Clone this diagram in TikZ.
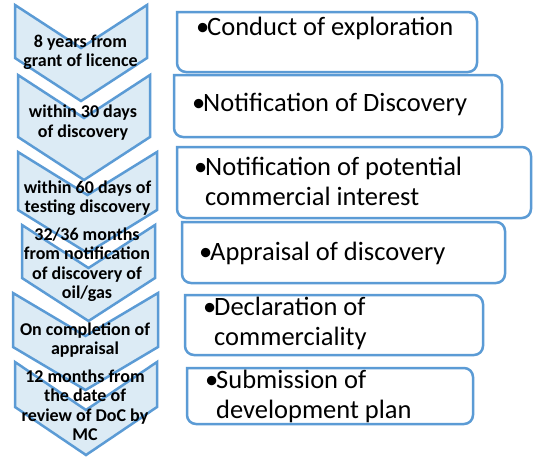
\documentclass[tikz,border=0pt]{standalone}
\usepackage{fontspec}
\setmainfont{Carlito}
\definecolor{chevline}{HTML}{5B9BD5}
\definecolor{chevfill}{HTML}{DCEBF5}
\newcommand\stagebullet{\makebox[11pt][l]{•}}
\newcommand\stageindent{\hspace*{11pt}}
% chevron: left x, right x, top y, side end y, depth
\newcommand\chevronpath[5]{%
  \draw[chevron] (#1,#3) -- ({(#1+#2)/2},{#3+#5}) -- (#2,#3) -- (#2,#4)
    -- ({(#1+#2)/2},{#4+#5}) -- (#1,#4) -- cycle;}
% stage box with rounded right-hand corners: left, top, right, bottom
\newcommand\stageframe[4]{%
  \draw[stagebox] (#1,#2) [rounded corners=9pt] -- (#3,#2) -- (#3,#4) -- (#1,#4)
    [sharp corners] -- cycle;}
\tikzset{
  chevron/.style={draw=chevline, fill=chevfill, line width=2.5pt},
  stagebox/.style={draw=chevline, fill=white, line width=2.5pt},
  chevtext/.style={align=center, inner sep=0pt, text=black,
    font=\fontsize{18}{19.5}\selectfont\bfseries},
  boxtext/.style={align=left, anchor=west, inner sep=0pt, text=black,
    font=\fontsize{26.5}{30}\selectfont}
}
\begin{document}
\begin{tikzpicture}[x=1pt,y=-1pt]
\useasboundingbox[fill=white] (0,0) rectangle (534,459);

% timeline chevrons
\chevronpath{15}{147}{5}{58}{43}
\chevronpath{18}{150}{75}{137}{43}
\chevronpath{18}{157}{152}{210}{43}
\chevronpath{22}{155}{225}{278}{43}
\chevronpath{13}{158}{293}{347}{43}
\chevronpath{15}{157}{362}{407}{48}

\node[chevtext] (c1) at (80.5,52.5) {8 years from\\grant of licence};
\node[chevtext] (c2) at (83,122.5) {within 30 days\\of discovery};
\node[chevtext] (c3) at (87.5,198) {within 60 days of\\testing discovery};
\node[chevtext] (c4) at (87,264.5) {32/36 months\\from notification\\of discovery of\\oil/gas};
\node[chevtext] (c5) at (85,340) {On completion of\\appraisal};
\node[chevtext] (c6) at (85,405) {12 months from\\the date of\\review of DoC by\\MC};

% activity boxes
\stageframe{177}{12}{477}{72}
\stageframe{174}{75}{502}{137}
\stageframe{177}{147}{531}{218}
\stageframe{182}{222}{505}{283}
\stageframe{185}{295}{483}{355}
\stageframe{187}{368}{473}{424}

\node[boxtext] (b1) at (196,28) {\stagebullet Conduct of exploration};
\node[boxtext] (b2) at (192,104) {\stagebullet Notification of Discovery};
\node[boxtext] (b3) at (194,181) {\stagebullet Notification of potential\\\stageindent commercial interest};
\node[boxtext] (b4) at (199,253) {\stagebullet Appraisal of discovery};
\node[boxtext] (b5) at (203,323.5) {\stagebullet Declaration of\\\stageindent commerciality};
\node[boxtext] (b6) at (205,396) {\stagebullet Submission of\\\stageindent development plan};
\end{tikzpicture}
\end{document}
